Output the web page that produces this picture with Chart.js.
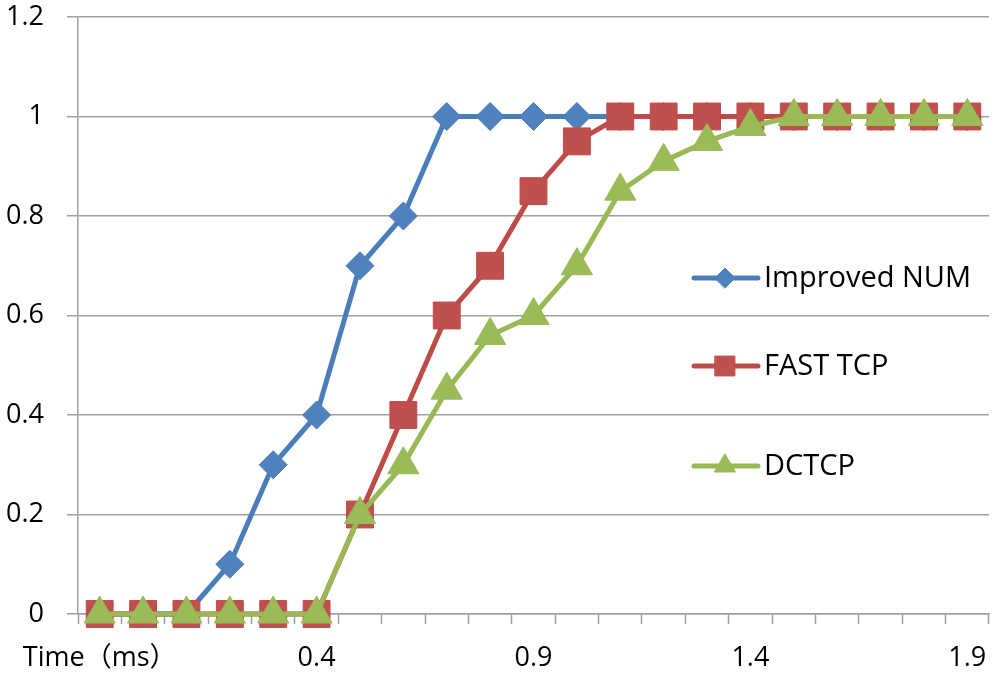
<!DOCTYPE html>
<html>
<head>
<meta charset="utf-8">
<script src="https://cdn.jsdelivr.net/npm/chart.js@4.4.1/dist/chart.umd.min.js"></script>
<style>
  body { margin: 0; background: #fff; overflow: hidden; }
  #wrap { width: 996px; height: 673px; }
  canvas { display: block; }
</style>
</head>
<body>
<div id="wrap"><canvas id="convChart" width="996" height="673"></canvas></div>
<script>
//Chart data
const categories = ["Time（ms）", "0", "0.1", "0.2", "0.3", "0.4", "0.5", "0.6", "0.7", "0.8", "0.9",
  "1", "1.1", "1.2", "1.3", "1.4", "1.5", "1.6", "1.7", "1.8", "1.9"];
const improvedNum = [0, 0, 0, 0.1, 0.3, 0.4, 0.7, 0.8, 1, 1, 1, 1, 1, 1, 1, 1, 1, 1, 1, 1, 1];
const fastTcp = [0, 0, 0, 0, 0, 0, 0.2, 0.4, 0.6, 0.7, 0.85, 0.95, 1, 1, 1, 1, 1, 1, 1, 1, 1];
const dctcp = [0, 0, 0, 0, 0, 0, 0.2, 0.3, 0.45, 0.56, 0.6, 0.7, 0.85, 0.91, 0.95, 0.98, 1, 1, 1, 1, 1];
const yTicks = [0, 0.2, 0.4, 0.6, 0.8, 1, 1.2];

const fontFamily = "'Open Sans', 'Noto Sans CJK SC', sans-serif";
const gridColor = "#a0a0a0";

//Legend drawn inside the plot area, on the right
const innerLegend = {
  id: "innerLegend",
  afterDraw(chart) {
    const ctx = chart.ctx;
    const rows = [278, 366, 466];
    ctx.save();
    chart.data.datasets.forEach((ds, i) => {
      const y = rows[i];
      ctx.strokeStyle = ds.borderColor;
      ctx.lineWidth = ds.borderWidth;
      ctx.lineCap = "round";
      ctx.beginPath();
      ctx.moveTo(694, y);
      ctx.lineTo(758, y);
      ctx.stroke();
      ctx.fillStyle = ds.pointBackgroundColor;
      ctx.strokeStyle = ds.pointBorderColor;
      ctx.lineWidth = 1;
      Chart.helpers.drawPoint(ctx, { pointStyle: ds.pointStyle, radius: ds.legendRadius, borderWidth: 1 }, 725, y);
      ctx.fillStyle = "#000";
      ctx.font = "29px " + fontFamily;
      ctx.textBaseline = "middle";
      ctx.textAlign = "left";
      ctx.fillText(ds.label, 764, y + 1);
    });
    ctx.restore();
  },
};

const config = {
  type: "line",
  data: {
    labels: categories,
    datasets: [
      {
        label: "Improved NUM",
        data: improvedNum,
        borderColor: "#4A7EBB",
        borderWidth: 5,
        pointStyle: "rectRot",
        pointRadius: 14,
        legendRadius: 10,
        pointBackgroundColor: "#4F81BD",
        pointBorderColor: "#4A7EBB",
        pointBorderWidth: 1,
        clip: false,
        order: 3,
      },
      {
        label: "FAST TCP",
        data: fastTcp,
        borderColor: "#BE4B48",
        borderWidth: 5,
        pointStyle: "rect",
        pointRadius: 19,
        legendRadius: 14,
        pointBackgroundColor: "#C0504D",
        pointBorderColor: "#BE4B48",
        pointBorderWidth: 1,
        clip: false,
        order: 2,
      },
      {
        label: "DCTCP",
        data: dctcp,
        borderColor: "#98B954",
        borderWidth: 5,
        pointStyle: "triangle",
        pointRadius: 18,
        legendRadius: 12,
        pointBackgroundColor: "#9BBB59",
        pointBorderColor: "#98B954",
        pointBorderWidth: 1,
        clip: false,
        order: 1,
      },
    ],
  },
  options: {
    responsive: false,
    animation: false,
    devicePixelRatio: 1,
    layout: { autoPadding: false, padding: { top: 17, right: 7, left: 0, bottom: 0 } },
    plugins: {
      legend: { display: false },
      tooltip: { enabled: false },
    },
    elements: { line: { tension: 0 } },
    scales: {
      x: {
        type: "category",
        offset: true,
        afterFit(scale) {
          scale.height = 59;
          scale.paddingLeft = 0;
          scale.paddingRight = 0;
        },
        grid: {
          offset: true,
          drawOnChartArea: false,
          drawTicks: true,
          tickLength: 10,
          tickColor: gridColor,
          tickWidth: 1.5,
        },
        border: { color: gridColor, width: 1.5 },
        ticks: {
          autoSkip: false,
          maxRotation: 0,
          padding: 18,
          color: "#000",
          font: { family: fontFamily, size: 27 },
          callback: function (value, index) {
            return index % 5 === 0 ? categories[index] : "";
          },
        },
      },
      y: {
        min: 0,
        max: 1.2,
        afterFit(scale) {
          scale.width = 78;
          scale.paddingTop = 0;
          scale.paddingBottom = 0;
        },
        afterBuildTicks(scale) {
          scale.ticks = yTicks.map((v) => ({ value: v }));
        },
        grid: {
          color: gridColor,
          lineWidth: 1.5,
          tickLength: 11,
          tickColor: gridColor,
        },
        border: { color: gridColor, width: 1.5 },
        ticks: {
          padding: 23,
          color: "#000",
          font: { family: fontFamily, size: 27 },
          callback: (v) => String(Math.round(v * 10) / 10),
        },
      },
    },
  },
  plugins: [innerLegend],
};

const convChart = new Chart(document.getElementById("convChart"), config);
</script>
</body>
</html>
